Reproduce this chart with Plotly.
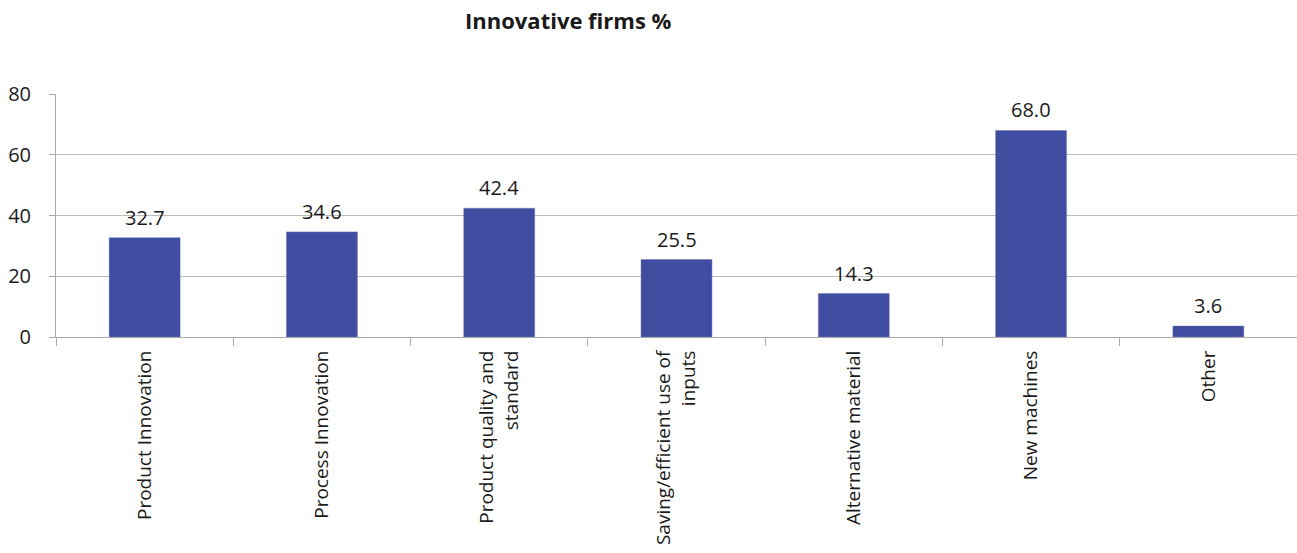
import plotly.graph_objects as go

categories = ["Product Innovation", "Process Innovation", "Product quality and<br>standard",
              "Saving/efficient use of<br>inputs", "Alternative material", "New machines", "Other"]
values = [32.7, 34.6, 42.4, 25.5, 14.3, 68.0, 3.6]
y_ticks = [0, 20, 40, 60, 80]

FONT = "Open Sans, sans-serif"
TXT = "#1a1a1a"
fig = go.Figure(go.Bar(
    x=categories, y=values,
    marker=dict(color="#404C9F", line=dict(color="#6a74b8", width=0.5)),
    cliponaxis=False, width=0.4,
))
for c, v in zip(categories, values):
    fig.add_annotation(x=c, y=v, text=f"{v:.1f}", showarrow=False, yanchor="bottom",
                       yshift=5, font=dict(size=20, color=TXT, family=FONT))
fig.update_layout(
    width=1297, height=553,
    margin=dict(l=56, r=0, t=94, b=216, autoexpand=False),
    paper_bgcolor="white", plot_bgcolor="white",
    showlegend=False,
    font=dict(family=FONT, size=20, color=TXT),
)
fig.add_annotation(text="<b>Innovative firms %</b>", x=(568 - 56) / 1241, y=1 + (94 - 20) / 243,
                   xref="paper", yref="paper", xanchor="center", yanchor="middle",
                   showarrow=False, font=dict(size=22, color=TXT, family=FONT))
fig.update_xaxes(showgrid=False, showline=True, linecolor="#aaa", linewidth=1,
                 ticks="outside", tickson="boundaries", ticklen=8, tickcolor="#aaa",
                 tickangle=-90, tickfont=dict(size=19, color=TXT), ticklabelstandoff=5,
                 automargin=False)
fig.update_yaxes(range=[0, 80], tickvals=y_ticks, showgrid=True, gridcolor="#bbb", gridwidth=1,
                 showline=True, linecolor="#aaa", linewidth=1, ticks="outside", ticklen=6,
                 tickcolor="#aaa", tickfont=dict(size=20, color=TXT), zeroline=False,
                 ticklabelstandoff=14, automargin=False)
fig.write_html("out.html")
